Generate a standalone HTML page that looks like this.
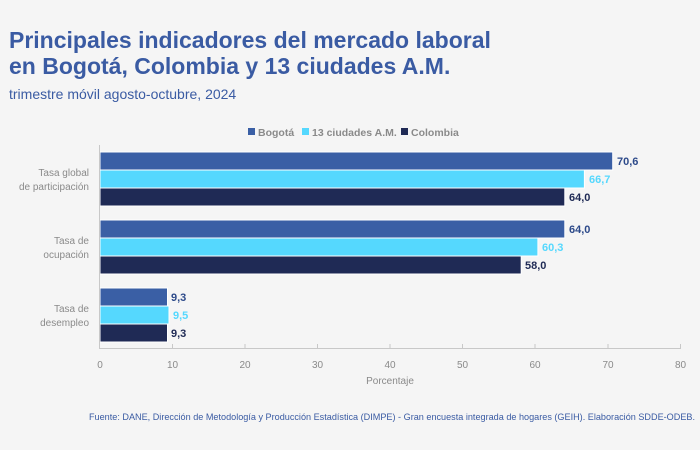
<!DOCTYPE html>
<html><head><meta charset="utf-8"><style>
body{margin:0;background:#f5f5f5;}
svg{display:block;font-family:"Liberation Sans",sans-serif;}
</style></head><body>
<svg width="700" height="450" viewBox="0 0 700 450">
<rect width="700" height="450" fill="#f5f5f5"/>
<text x="9" y="48" font-size="23" font-weight="bold" fill="#3a5ba3">Principales indicadores del mercado laboral</text>
<text x="9" y="74" font-size="23" font-weight="bold" fill="#3a5ba3">en Bogotá, Colombia y 13 ciudades A.M.</text>
<text x="9" y="99" font-size="14" fill="#3a5ba3">trimestre móvil agosto-octubre, 2024</text>
<g font-size="10.5" fill="#8a8a8a" font-weight="bold">
<rect x="248" y="128" width="7" height="7" fill="#3a5fa5"/><text x="258" y="136">Bogotá</text>
<rect x="302" y="128" width="7" height="7" fill="#55d8fe"/><text x="312" y="136">13 ciudades A.M.</text>
<rect x="401" y="128" width="7" height="7" fill="#1f2a55"/><text x="411" y="136">Colombia</text>
</g>
<g stroke="#fff" stroke-width="1">
<rect x="100" y="152" width="512.7" height="18" fill="#3a5fa5"/>
<rect x="100" y="170" width="484.4" height="18" fill="#55d8fe"/>
<rect x="100" y="188" width="464.8" height="18" fill="#1f2a55"/>
<rect x="100" y="220" width="464.8" height="18" fill="#3a5fa5"/>
<rect x="100" y="238" width="437.9" height="18" fill="#55d8fe"/>
<rect x="100" y="256" width="421.2" height="18" fill="#1f2a55"/>
<rect x="100" y="288" width="67.5" height="18" fill="#3a5fa5"/>
<rect x="100" y="306" width="69" height="18" fill="#55d8fe"/>
<rect x="100" y="324" width="67.5" height="18" fill="#1f2a55"/>
</g>
<g font-size="11" font-weight="bold">
<text x="617" y="165" fill="#2d4a8a">70,6</text>
<text x="589" y="183" fill="#55d8fe">66,7</text>
<text x="569" y="201" fill="#1f2a55">64,0</text>
<text x="569" y="233" fill="#2d4a8a">64,0</text>
<text x="542" y="251" fill="#55d8fe">60,3</text>
<text x="525" y="269" fill="#1f2a55">58,0</text>
<text x="171" y="301" fill="#2d4a8a">9,3</text>
<text x="173" y="319" fill="#55d8fe">9,5</text>
<text x="171" y="337" fill="#1f2a55">9,3</text>
</g>
<g font-size="10" fill="#8a8a8a" text-anchor="end">
<text x="89" y="176">Tasa global</text><text x="89" y="190">de participación</text>
<text x="89" y="244">Tasa de</text><text x="89" y="258">ocupación</text>
<text x="89" y="312">Tasa de</text><text x="89" y="326">desempleo</text>
</g>
<g stroke="#c8c8c8" stroke-width="1">
<line x1="99.5" y1="145" x2="99.5" y2="349"/>
<line x1="99.5" y1="348.5" x2="681" y2="348.5"/>
<line x1="172.5" y1="344" x2="172.5" y2="349"/><line x1="245" y1="344" x2="245" y2="349"/>
<line x1="317.5" y1="344" x2="317.5" y2="349"/><line x1="390" y1="344" x2="390" y2="349"/>
<line x1="462.5" y1="344" x2="462.5" y2="349"/><line x1="535" y1="344" x2="535" y2="349"/>
<line x1="608" y1="344" x2="608" y2="349"/><line x1="680.5" y1="344" x2="680.5" y2="349"/>
</g>
<g font-size="10" fill="#8a8a8a" text-anchor="middle">
<text x="100" y="368">0</text><text x="172.5" y="368">10</text><text x="245" y="368">20</text>
<text x="317.5" y="368">30</text><text x="390" y="368">40</text><text x="462.5" y="368">50</text>
<text x="535" y="368">60</text><text x="608" y="368">70</text><text x="680.5" y="368">80</text>
<text x="390" y="384">Porcentaje</text>
</g>
<text x="89" y="420" font-size="9.3" fill="#3a5ba3" textLength="606" lengthAdjust="spacingAndGlyphs">Fuente: DANE, Dirección de Metodología y Producción Estadística (DIMPE) - Gran encuesta integrada de hogares (GEIH). Elaboración SDDE-ODEB.</text>
</svg>
</body></html>
